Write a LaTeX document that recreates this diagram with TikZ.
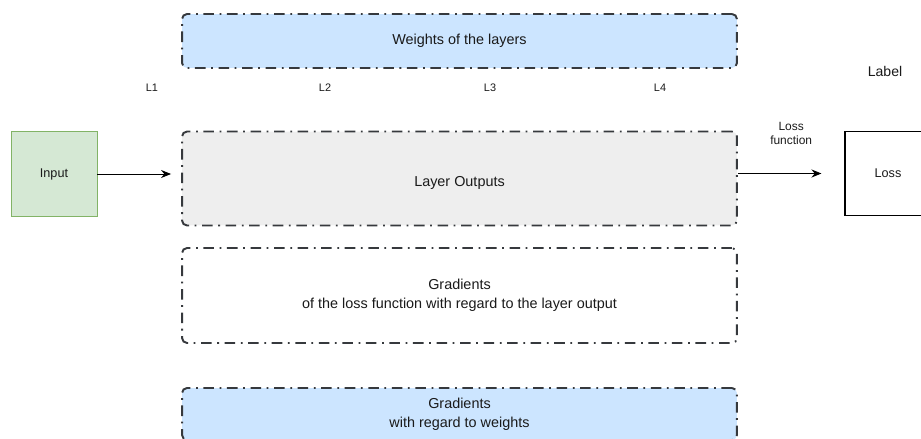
\documentclass[tikz,border=0pt]{standalone}
\usepackage{fontspec}
\setmainfont{Liberation Sans}
\usetikzlibrary{arrows.meta,positioning}
\definecolor{gdInk}{HTML}{1A1A1A}
\definecolor{gdEdge}{HTML}{36393D}
\definecolor{gdBlue}{HTML}{CCE5FF}
\definecolor{gdGray}{HTML}{EEEEEE}
\definecolor{gdGreen}{HTML}{D5E8D4}
\definecolor{gdGreenEdge}{HTML}{82B366}
\tikzset{
  gd canvas/.style={fill=white},
  gd band/.style={
    draw=gdEdge,
    line width=1.1pt,
    dash pattern=on 6pt off 3.2pt on 1pt off 3.2pt,
    rounded corners=1mm,
    minimum width=11.1cm,
    font=\fontsize{8.2}{11}\selectfont,
    text=gdInk,
    align=center
  },
  gd band blue/.style={gd band, fill=gdBlue},
  gd band gray/.style={gd band, fill=gdGray},
  gd band plain/.style={gd band, fill=white},
  gd square/.style={
    minimum width=1.72cm,
    minimum height=1.69cm,
    font=\fontsize{7.2}{8}\selectfont,
    text=gdInk
  },
  gd flow/.style={
    draw=black,
    line width=.5pt,
    -{Stealth[length=2mm,width=1.6mm]}
  },
  gd layer/.style={font=\fontsize{6.2}{7}\selectfont, text=gdInk},
  gd small label/.style={font=\fontsize{6.8}{8}\selectfont, text=gdInk, align=center}
}

\begin{document}
\begin{tikzpicture}[x=0.02cm,y=-0.02cm]
  \path[gd canvas] (0,0) rectangle (921,439);
  \clip (0,0) rectangle (921,439);

  \node[gd band blue, minimum height=1.08cm] (weights) at (459.5,41) {Weights of the layers};
  \node[gd band gray, minimum height=1.88cm, text height=11pt, text depth=1.8pt] (outputs) at (459.5,178.5) {Layer Outputs};
  \node[gd band plain, minimum height=1.9cm] (gradout) at (459.5,295.5)
    {Gradients\\of the loss function with regard to the layer output};
  \node[gd band blue, minimum height=1.04cm] (gradw) at (459.5,414)
    {Gradients\\with regard to weights};

  \node[gd square, draw=gdGreenEdge, fill=gdGreen] (input) at (54,174) {Input};
  \node[gd square, draw=black, line width=.6pt, fill=white] (loss) at (888,173.5) {Loss};

  \node[gd layer] (l1) at (152,88) {L1};
  \node[gd layer] (l2) at (325,88) {L2};
  \node[gd layer] (l3) at (490,88) {L3};
  \node[gd layer] (l4) at (660,88) {L4};
  \node[font=\fontsize{8}{9}\selectfont, text=gdInk] (label) at (885,71) {Label};

  \draw[gd flow, shorten >=10*0.02cm] (input.east) -- (outputs.west |- input.east);
  \draw[gd flow, shorten >=23*0.02cm] (outputs.east |- loss.west) -- (loss.west)
    node[midway, above=4.6mm, gd small label] {Loss\\function};
\end{tikzpicture}
\end{document}
